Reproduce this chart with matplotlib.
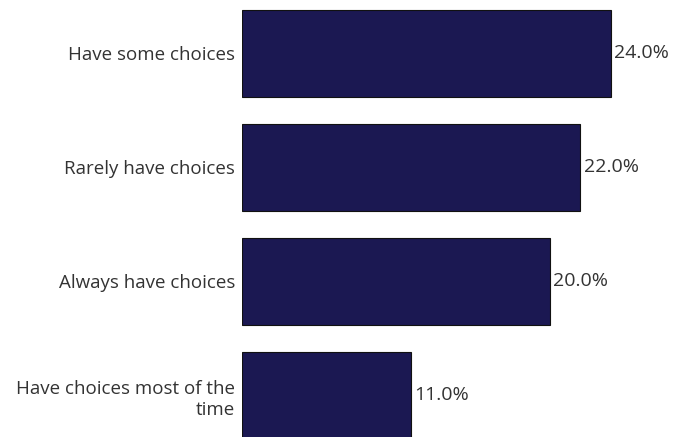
import matplotlib
matplotlib.use("Agg")
import matplotlib.pyplot as plt

categories = ["Have some choices", "Rarely have choices", "Always have choices",
              "Have choices most of the\ntime"]
values = [24.0, 22.0, 20.0, 11.0]
value_labels = ["24.0%", "22.0%", "20.0%", "11.0%"]

plt.rcParams['font.family'] = ['Open Sans', 'DejaVu Sans']

W, H = 677, 437
fig = plt.figure(figsize=(W/100, H/100), dpi=100)
ax = fig.add_axes([242/W, 0, 1 - 242/W, 1])

ypos = list(range(len(categories)))
ax.barh(ypos, values, height=0.763, color="#1b1852", edgecolor="#111111", linewidth=0.8)
for y, v, lab in zip(ypos, values, value_labels):
    ax.annotate(lab, (v, y), xytext=(2.5, 0), textcoords="offset points",
                va="center", ha="left", fontsize=14, color="#333333")

ax.set_xlim(0, 24 * 435 / 369)
ax.set_ylim((437 - 53.5) / 114, -53.5 / 114)
ax.set_yticks(ypos)
ax.set_yticklabels(categories, fontsize=13.5, color="#333333", ha="right",
                   multialignment="right", linespacing=1.25)
ax.tick_params(axis="y", length=0, pad=5)
ax.set_xticks([])
for s in ax.spines.values():
    s.set_visible(False)

fig.savefig("out.png", dpi=100)
